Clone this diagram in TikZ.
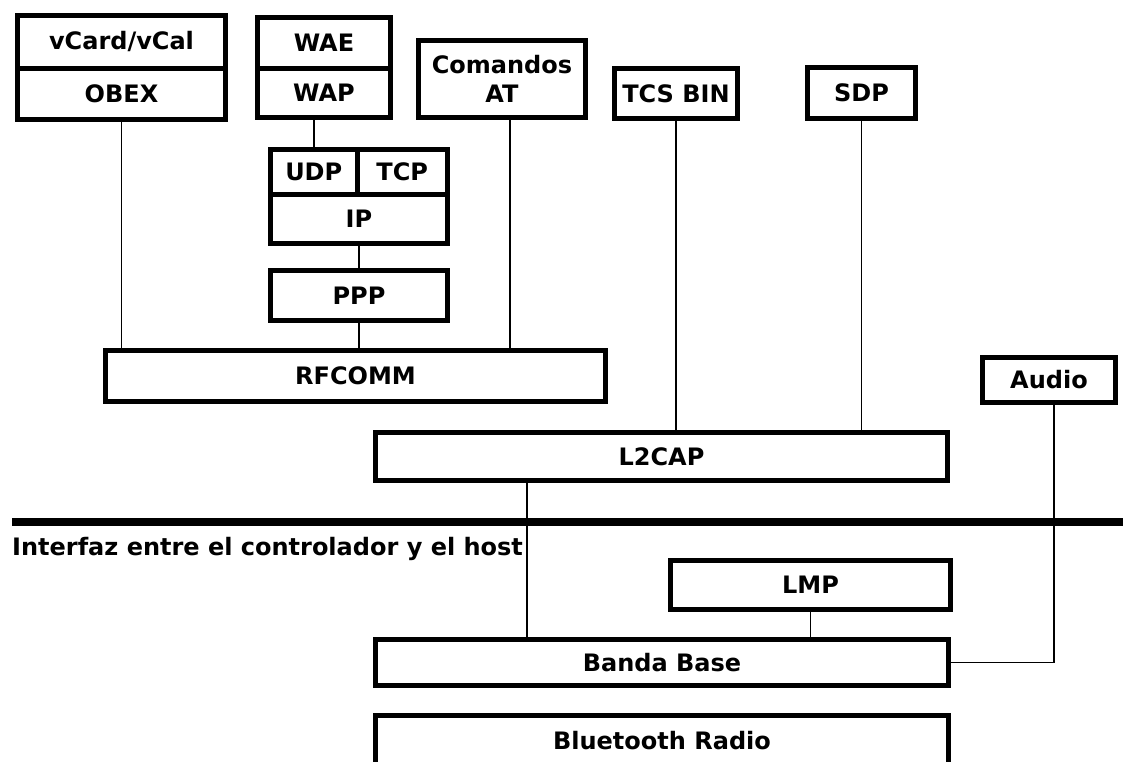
\documentclass[tikz,border=0pt]{standalone}
\usepackage{fontspec}
\setmainfont{DejaVu Sans}
\usetikzlibrary{positioning}

\begin{document}
\begin{tikzpicture}[
            x=1pt, y=-1pt,
            box/.style={rectangle, draw=black, line width=5pt, outer sep=0pt, inner sep=0pt,
                        align=center, font=\fontsize{24}{29}\selectfont\bfseries},
            link/.style={draw=black, line width=1.5pt},
            hostline/.style={draw=black, line width=8pt}
        ]
            \clip (0,0) rectangle (1123,761);
            \fill[white] (0,0) rectangle (1123,761);

            % host side
            \node[box, minimum width=208pt, minimum height=52.5pt] (vcard) at (121.5,41.75) {vCard/vCal};
            \node[box, minimum width=208pt, minimum height=51.5pt, below=0pt of vcard] (obex) {OBEX};
            \node[box, minimum width=133pt, minimum height=51pt] (wae) at (324,43) {WAE};
            \node[box, minimum width=133pt, minimum height=49pt, below=0pt of wae] (wap) {WAP};
            \node[box, minimum width=167pt, minimum height=77pt] (cmdat) at (502,79) {Comandos\\AT};
            \node[box, minimum width=123pt, minimum height=50pt] (tcsbin) at (676,93.5) {TCS BIN};
            \node[box, minimum width=108pt, minimum height=51pt] (sdp) at (861.5,93) {SDP};

            \node[box, minimum width=86.5pt, minimum height=44.5pt] (udp) at (313.75,171.75) {UDP};
            \node[box, minimum width=90.5pt, minimum height=44.5pt, right=0pt of udp] (tcp) {TCP};
            \node[box, minimum width=177pt, minimum height=49.5pt, below right=0pt and 0pt of udp.south west] (ip) {IP};
            \node[box, minimum width=177pt, minimum height=50pt] (ppp) at (359,295.5) {PPP};

            \node[box, minimum width=500pt, minimum height=51pt] (rfcomm) at (355.5,376) {RFCOMM};
            \node[box, minimum width=133pt, minimum height=45pt] (audio) at (1049,380) {Audio};
            \node[box, minimum width=572pt, minimum height=48pt] (l2cap) at (661.5,456.5) {L2CAP};

            % controller side
            \node[box, minimum width=280pt, minimum height=49pt] (lmp) at (810.5,585) {LMP};
            \node[box, minimum width=573pt, minimum height=46pt] (banda) at (662,662.5) {Banda Base};
            \node[box, minimum width=573pt, minimum height=50pt, below=30pt of banda] (radio) {Bluetooth Radio};

            % interface between host and controller
            \draw[hostline] (12,522) -- (1123,522);
            \node[font=\fontsize{24}{29}\selectfont\bfseries, anchor=base west, inner sep=0pt] (iface) at (12,555)
                {Interfaz entre el controlador y el host};

            \draw[link] (obex.south) -- (obex.south |- rfcomm.north);
            \draw[link] (udp.north) -- (udp.north |- wap.south);
            \draw[link] (ip.south) -- (ppp.north);
            \draw[link] (ppp.south) -- (ppp.south |- rfcomm.north);
            \draw[link] ([xshift=8pt]cmdat.south) -- ([xshift=8pt]cmdat.south |- rfcomm.north);
            \draw[link] (tcsbin.south) -- (tcsbin.south |- l2cap.north);
            \draw[link] (sdp.south) -- (sdp.south |- l2cap.north);
            \draw[link] ([xshift=151.5pt]l2cap.south west) -- ([xshift=151.5pt]l2cap.south west |- banda.north);
            \draw[link] (lmp.south) -- (lmp.south |- banda.north);
            \draw[link] ([xshift=5pt]audio.south) |- (banda.east);
        \end{tikzpicture}
\end{document}
